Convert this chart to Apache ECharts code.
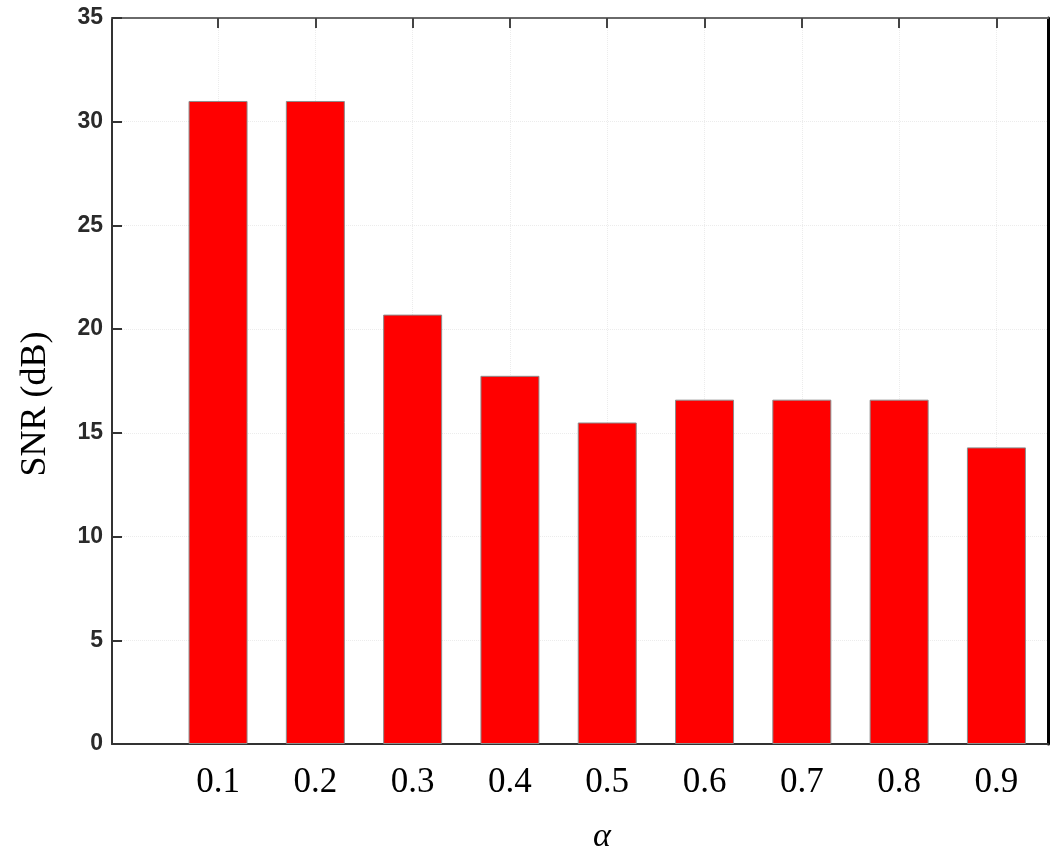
<!DOCTYPE html>
<html>
<head>
<meta charset="utf-8">
<script src="https://cdn.jsdelivr.net/npm/echarts@6/dist/echarts.min.js"></script>
<style>html,body{margin:0;padding:0;background:#fff;}#c{width:1050px;height:865px;}</style>
</head>
<body>
<div id="c"></div>
<script>
const alphas = [0.1, 0.2, 0.3, 0.4, 0.5, 0.6, 0.7, 0.8, 0.9];
const snr = [31.0, 31.0, 20.7, 17.75, 15.5, 16.6, 16.6, 16.6, 14.3];
const yTicks = [0, 5, 10, 15, 20, 25, 30, 35];

const chart = echarts.init(document.getElementById('c'));
const grid = { left: 112, right: 2, top: 18, bottom: 121 };
const xCommon = {
  type: 'value', min: -0.009, max: 0.953
};
chart.setOption({
  backgroundColor: '#fff',
  animation: false,
  grid: grid,
  xAxis: [
    Object.assign({}, xCommon, {
      position: 'bottom',
      name: 'α',
      nameLocation: 'middle',
      nameGap: 76,
      nameTextStyle: { fontFamily: 'Liberation Serif', fontStyle: 'italic', fontSize: 34, color: '#000', padding: [0, 0, 0, 44] },
      axisLine: { show: true, onZero: false, lineStyle: { color: '#333', width: 2 } },
      axisTick: { show: true, inside: true, length: 10, customValues: alphas, lineStyle: { color: '#333', width: 2 } },
      axisLabel: { customValues: alphas, formatter: v => v.toFixed(1), fontFamily: 'Liberation Serif', fontSize: 35, color: '#000', margin: 21 },
      splitLine: { show: true, lineStyle: { color: '#ececec', type: 'dotted', width: 1 } }
    }),
    Object.assign({}, xCommon, {
      position: 'top',
      axisLine: { show: true, onZero: false, lineStyle: { color: '#6a6a6a', width: 2 } },
      axisTick: { show: true, inside: true, length: 10, customValues: alphas, lineStyle: { color: '#444', width: 2 } },
      axisLabel: { show: false },
      splitLine: { show: false }
    })
  ],
  yAxis: [
    {
      type: 'value', min: 0, max: 35, interval: 5,
      position: 'left',
      name: 'SNR (dB)',
      nameLocation: 'middle',
      nameGap: 58,
      nameTextStyle: { fontFamily: 'Liberation Serif', fontSize: 36, color: '#000', padding: [0, 46, 0, 0] },
      axisLine: { show: true, onZero: false, lineStyle: { color: '#333', width: 2 } },
      axisTick: { show: true, inside: true, length: 10, lineStyle: { color: '#333', width: 2 } },
      axisLabel: { fontFamily: 'Liberation Sans', fontWeight: 'bold', fontSize: 23, color: '#2a2a2a', margin: 9 },
      splitLine: { show: true, lineStyle: { color: '#ececec', type: 'dotted', width: 1 } }
    },
    {
      type: 'value', min: 0, max: 35, interval: 5,
      position: 'right',
      axisLine: { show: true, onZero: false, lineStyle: { color: '#000', width: 3 } },
      axisTick: { show: false },
      axisLabel: { show: false },
      splitLine: { show: false }
    }
  ],
  series: [{
    type: 'bar',
    xAxisIndex: 0,
    yAxisIndex: 0,
    barWidth: 59,
    data: alphas.map((a, i) => [a, snr[i]]),
    itemStyle: { color: '#ff0000', borderColor: '#8c8c8c', borderWidth: 1 }
  }]
});
</script>
</body>
</html>
